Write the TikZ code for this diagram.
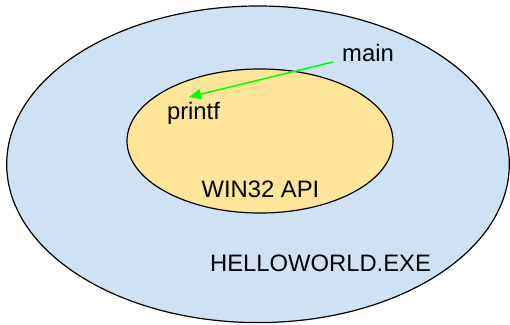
\documentclass[tikz,border=0pt]{standalone}
\usepackage{fontspec}
\setmainfont{Liberation Sans}
\usetikzlibrary{shapes.geometric,arrows.meta}
\definecolor{outerblue}{HTML}{CFE2F3}
\definecolor{inneryellow}{HTML}{FFE599}
\definecolor{arrowgreen}{HTML}{00FF00}
\tikzset{
  blob/.style={ellipse, draw=black, line width=1.2pt, inner sep=0pt},
  lbl/.style={font=\fontsize{23.8}{27}\selectfont, inner sep=0pt, anchor=base},
  callarrow/.style={draw=arrowgreen, line width=1.5pt, -{Triangle[length=12pt,width=10pt]}}
}
\begin{document}
\begin{tikzpicture}[x=1pt,y=1pt]
\useasboundingbox (0,0) rectangle (510,324);
\node[blob, fill=outerblue, minimum width=502.6pt, minimum height=316.6pt] (exe) at (258,159.7) {};
\node[blob, fill=inneryellow, minimum width=266pt, minimum height=144pt] (api) at (260,183) {};
\node[lbl] (hello) at (320.5,53) {HELLOWORLD.EXE};
\node[lbl] (win) at (260.5,127) {WIN32 API};
\node[lbl] (printf) at (193.5,204) {printf};
\node[lbl] (main) at (368,262) {main};
\coordinate (from) at (333,262);
\coordinate (to) at (189,227);
\draw[callarrow] (from) -- (to);
\end{tikzpicture}
\end{document}
